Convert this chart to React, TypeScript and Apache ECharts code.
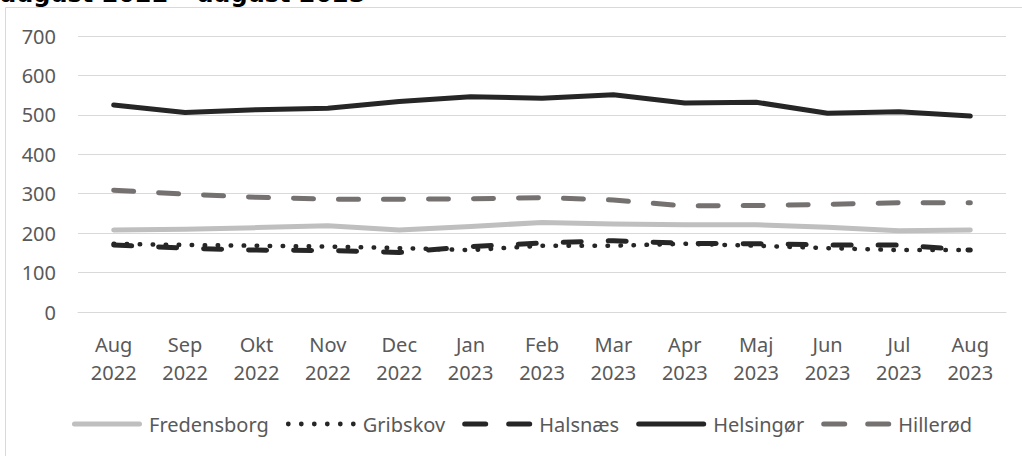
import React, { useEffect, useRef } from "react";
import * as echarts from "echarts";

const months = ["Aug\n2022", "Sep\n2022", "Okt\n2022", "Nov\n2022", "Dec\n2022", "Jan\n2023", "Feb\n2023", "Mar\n2023", "Apr\n2023", "Maj\n2023", "Jun\n2023", "Jul\n2023", "Aug\n2023"];
const fredensborg = [208, 210, 214, 219, 208, 217, 227, 223, 221, 221, 215, 206, 208];
const gribskov = [173, 170, 168, 166, 162, 157, 168, 168, 173, 168, 162, 157, 157];
const halsnaes = [170, 162, 157, 156, 151, 166, 175, 181, 174, 173, 170, 170, 157];
const helsingor = [525, 506, 513, 517, 534, 546, 542, 551, 530, 532, 504, 508, 497];
const hillerod = [309, 299, 291, 286, 286, 287, 290, 284, 269, 270, 273, 277, 277];
const titleText = "august 2022 – august 2023";

const FONT = "'Noto Sans', sans-serif";
const LABEL = "#595959";

const roundBar = (x0: number, x1: number) =>
  `M${x0 + 2.5} 0 H${x1 - 2.5} A2.5 2.5 0 0 1 ${x1 - 2.5} 5 H${x0 + 2.5} A2.5 2.5 0 0 1 ${x0 + 2.5} 0 Z `;
const dot = (cx: number) =>
  `M${cx - 2.4} 2.5 A2.4 2.4 0 1 0 ${cx + 2.4} 2.5 A2.4 2.4 0 1 0 ${cx - 2.4} 2.5 Z `;

const ICON_SOLID = "path://" + roundBar(0, 70);
const ICON_DASH = "path://" + roundBar(0, 26) + roundBar(44, 70);
const ICON_DOT = "path://M0 0 " + [2.5, 15.5, 28.5, 41.5, 54.5, 67.5].map(dot).join("") + "M70 5";

export default function App() {
  const ref = useRef<HTMLDivElement>(null);
  useEffect(() => {
    if (!ref.current) return;
    const chart = echarts.init(ref.current, undefined, { renderer: "svg" });
    const mk = (name: string, data: number[], color: string, type: any, width: number) => ({
      name,
      type: "line",
      data,
      symbol: "none",
      showSymbol: false,
      smooth: false,
      lineStyle: { color, width, type, cap: "round", join: "round" },
      itemStyle: { color },
    });
    chart.setOption({
      animation: false,
      backgroundColor: "#ffffff",
      textStyle: { fontFamily: FONT },
      title: {
        text: titleText,
        left: 0,
        top: -18,
        padding: 0,
        textStyle: { fontFamily: "'DejaVu Sans', sans-serif", fontWeight: "bold", fontSize: 24, color: "#000000" },
      },
      graphic: [
        {
          type: "rect",
          shape: { x: 5.5, y: 7.5, width: 1040, height: 470 },
          style: { fill: "none", stroke: "#d9d9d9", lineWidth: 1 },
          silent: true,
          z: -10,
        },
      ],
      grid: { left: 78, right: 16, top: 36, bottom: 144, containLabel: false },
      xAxis: {
        type: "category",
        data: months,
        boundaryGap: true,
        axisLine: { show: true, lineStyle: { color: "#d9d9d9", width: 1 } },
        axisTick: { show: false },
        axisLabel: { color: LABEL, fontSize: 20, fontFamily: FONT, lineHeight: 28, margin: 18, interval: 0 },
        splitLine: { show: false },
      },
      yAxis: {
        type: "value",
        min: 0,
        max: 700,
        interval: 100,
        axisLine: { show: false },
        axisTick: { show: false },
        axisLabel: { color: LABEL, fontSize: 20, fontFamily: FONT, margin: 22 },
        splitLine: { lineStyle: { color: "#d9d9d9", width: 1 } },
      },
      legend: {
        bottom: 17,
        left: 67,
        padding: 5,
        itemWidth: 70,
        itemHeight: 14,
        itemGap: 17,
        itemStyle: { borderWidth: 0 },
        textStyle: { color: LABEL, fontSize: 20, fontFamily: FONT, padding: [0, 0, 0, 2] },
        data: [
          { name: "Fredensborg", icon: ICON_SOLID },
          { name: "Gribskov", icon: ICON_DOT },
          { name: "Halsnæs", icon: ICON_DASH },
          { name: "Helsingør", icon: ICON_SOLID },
          { name: "Hillerød", icon: ICON_DASH },
        ],
      },
      series: [
        mk("Fredensborg", fredensborg, "#bfbfbf", "solid", 5),
        mk("Gribskov", gribskov, "#262626", [0.5, 12.5], 4.5),
        mk("Halsnæs", halsnaes, "#262626", [18, 27], 5),
        mk("Helsingør", helsingor, "#262626", "solid", 5),
        mk("Hillerød", hillerod, "#767171", [20, 25], 5),
      ],
    });
    return () => chart.dispose();
  }, []);
  return (
    <div
      ref={ref}
      style={{ position: "absolute", left: 0, top: 0, width: 1022, height: 456, overflow: "hidden" }}
    />
  );
}
